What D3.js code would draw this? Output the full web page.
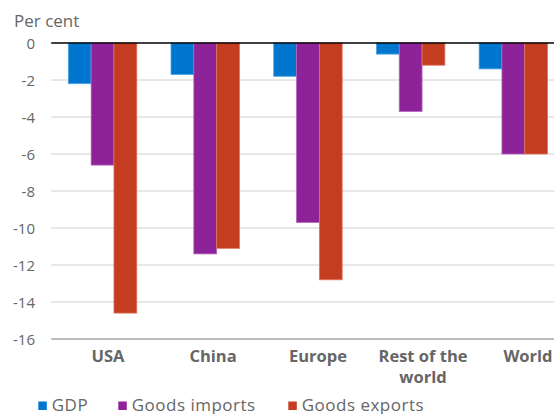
<!DOCTYPE html>
<html><head><meta charset="utf-8">
<script src="https://cdn.jsdelivr.net/npm/d3@7/dist/d3.min.js"></script>
<style>body{margin:0;background:#fff}svg{display:block}text{font-family:"Open Sans",sans-serif}</style>
</head><body><svg id="c" width="554" height="414"></svg>
<script>
const categories = ["USA", "China", "Europe", "Rest of the world", "World"];
const categoryLines = [["USA"], ["China"], ["Europe"], ["Rest of the", "world"], ["World"]];
const seriesNames = ["GDP", "Goods imports", "Goods exports"];
const gdp = [-2.2, -1.7, -1.8, -0.6, -1.4];
const goodsImports = [-6.6, -11.4, -9.7, -3.7, -6.0];
const goodsExports = [-14.6, -11.1, -12.8, -1.2, -6.0];
const yTicks = [0, -2, -4, -6, -8, -10, -12, -14, -16];
const colors = ["#0077cf", "#8e2299", "#c43d21"];
const strokes = ["#4aa3e6", "#b366bd", "#e0765e"];

const series = [gdp, goodsImports, goodsExports];
const svg = d3.select("#c");
const pL = 51.2, pR = 564.7, pT = 43, pB = 339;

const y = d3.scaleLinear().domain([0, -16]).range([pT, pB]);
const x = d3.scaleBand().domain(categories).range([pL, pR]).paddingInner(1/3).paddingOuter(1/6);
const xs = d3.scaleBand().domain(seriesNames).range([0, x.bandwidth()]);
const xl = d3.scaleBand().domain(categories).range([55.5, 580.5]);

// gridlines
svg.append("g").selectAll("line").data(yTicks.filter(d => d !== 0 && d !== -16)).join("line")
  .attr("x1", pL).attr("x2", 554).attr("y1", d => y(d)).attr("y2", d => y(d))
  .attr("stroke", "#d0d0d0").attr("stroke-width", 1);

// y tick labels
svg.append("g").selectAll("text").data(yTicks).join("text")
  .attr("x", 35).attr("y", d => y(d) + 5.5).attr("text-anchor", "end")
  .attr("font-size", 15).attr("fill", "#666").text(d => d);

svg.append("text").attr("x", 14).attr("y", 26.5).attr("font-size", 17).attr("fill", "#666").text("Per cent");

// bars
const g = svg.append("g");
series.forEach((vals, si) => {
  g.append("g").selectAll("rect").data(vals).join("rect")
    .attr("x", (d, i) => x(categories[i]) + xs(seriesNames[si]))
    .attr("y", y(0))
    .attr("width", xs.bandwidth())
    .attr("height", d => y(d) - y(0))
    .attr("fill", colors[si])
    .attr("stroke", strokes[si]).attr("stroke-width", 0.8);
});

// zero line and bottom axis
svg.append("line").attr("x1", pL).attr("x2", 554).attr("y1", y(0)).attr("y2", y(0)).attr("stroke", "#000").attr("stroke-width", 1.3);
svg.append("line").attr("x1", pL).attr("x2", 554).attr("y1", y(-16)).attr("y2", y(-16)).attr("stroke", "#777").attr("stroke-width", 1);

// x labels
const xg = svg.append("g");
categories.forEach((c, i) => {
  const t = xg.append("text").attr("x", xl(c) + xl.bandwidth() / 2).attr("y", 362)
    .attr("text-anchor", "middle").attr("font-size", 16.5).attr("font-weight", "bold").attr("fill", "#666");
  categoryLines[i].forEach((ln, j) => t.append("tspan").attr("x", xl(c) + xl.bandwidth() / 2).attr("dy", j ? 21 : 0).text(ln));
});

// legend
const legX = [38.3, 118.3, 288.3];
const lg = svg.append("g");
seriesNames.forEach((s, i) => {
  lg.append("rect").attr("x", legX[i]).attr("y", 401.5).attr("width", 8.5).attr("height", 8.5).attr("fill", colors[i]);
  lg.append("text").attr("x", legX[i] + 13.4).attr("y", 410.5).attr("font-size", 17).attr("letter-spacing", 0.5).attr("fill", "#666").text(s);
});
</script></body></html>
